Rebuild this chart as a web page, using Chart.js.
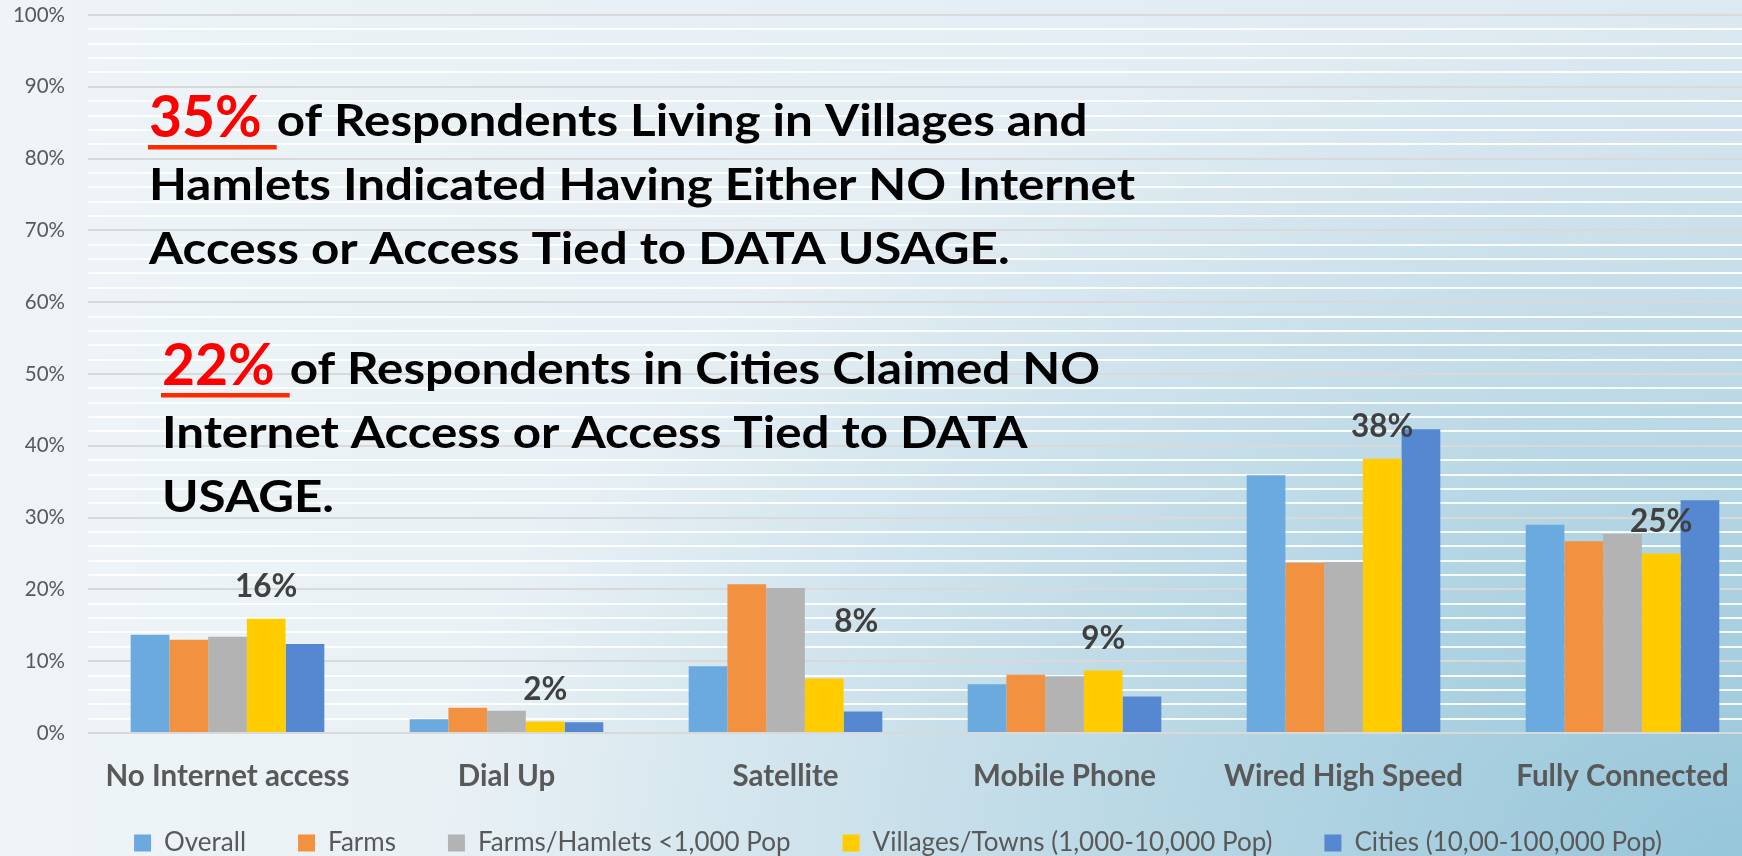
<!DOCTYPE html>
<html lang="en">
<head>
<meta charset="utf-8" />
<title>Internet Access by Community Size</title>
<script src="https://cdn.jsdelivr.net/npm/chart.js"></script>
<style>
    html, body {
        margin: 0;
        padding: 0;
        width: 1742px;
        height: 856px;
        overflow: hidden;
    }

    body {
        background:
            radial-gradient(ellipse 75% 100% at 100% 100%, rgba(150, 198, 217, 1) 0%, rgba(150, 198, 217, 0) 100%),
            linear-gradient(to right, #eef4f7 0%, #dde9f1 100%);
    }

    /* the plot runs past the right edge in the original, so the canvas is wider than the window */
    .chart-wrap {
        position: absolute;
        left: 0;
        top: 0;
        width: 1780px;
        height: 900px;
    }
</style>
</head>
<body>
<div class="chart-wrap"><canvas id="accessChart"></canvas></div>

<script>
    const categories = ['No Internet access', 'Dial Up', 'Satellite', 'Mobile Phone', 'Wired High Speed', 'Fully Connected'];
    const seriesNames = ['Overall', 'Farms', 'Farms/Hamlets <1,000 Pop', 'Villages/Towns (1,000-10,000 Pop)', 'Cities (10,00-100,000 Pop)'];
    const overall = [13.7, 1.9, 9.3, 6.8, 35.9, 29.0];
    const farms = [13.0, 3.5, 20.7, 8.1, 23.7, 26.7];
    const hamlets = [13.4, 3.1, 20.2, 7.9, 23.8, 27.7];
    const villages = [15.9, 1.6, 7.6, 8.7, 38.2, 25.0];
    const cities = [12.4, 1.5, 3.0, 5.1, 42.3, 32.4];
    const seriesColors = ['#6aaade', '#f29241', '#b3b3b3', '#ffcc00', '#5588d0'];

    const noteLines = [
        ['35%', 'of Respondents Living in Villages and'],
        ['', 'Hamlets Indicated Having Either NO Internet'],
        ['', 'Access or Access Tied to DATA USAGE.'],
        ['22%', 'of Respondents in Cities Claimed NO'],
        ['', 'Internet Access or Access Tied to DATA'],
        ['', 'USAGE.']
    ];

    Chart.defaults.font.family = 'Lato, "Open Sans", sans-serif';
    Chart.defaults.color = '#595959';

    // percentage printed over the Villages/Towns bars
    const barLabels = {
        id: 'barLabels',
        afterDatasetsDraw(chart, args, opts) {
            const ctx = chart.ctx;
            const values = chart.data.datasets[opts.dataset].data;
            ctx.save();
            ctx.font = 'bold 31.5px Lato';
            ctx.fillStyle = '#404040';
            ctx.textAlign = 'center';
            ctx.textBaseline = 'alphabetic';
            chart.getDatasetMeta(opts.dataset).data.forEach((bar, i) => {
                const n = opts.nudge[i] || [0, 0];
                ctx.fillText(Math.round(values[i]) + '%', bar.x + n[0], bar.y - opts.gap + n[1]);
            });
            ctx.restore();
        }
    };

    // the two big call-outs written across the plot
    const notes = {
        id: 'notes',
        afterDraw(chart, args, opts) {
            const ctx = chart.ctx;
            ctx.save();
            ctx.textAlign = 'left';
            ctx.textBaseline = 'alphabetic';
            ctx.font = 'bold 44.5px Lato';
            const sx = opts.fitWidth / ctx.measureText(noteLines[1][1]).width;
            noteLines.forEach((line, i) => {
                const block = opts.blocks[i < 3 ? 0 : 1];
                const y = block.y + (i % 3) * opts.lineStep;
                let x = block.x;
                if (line[0]) {
                    ctx.font = 'bold 57px Lato';
                    ctx.fillStyle = '#ff0000';
                    ctx.fillText(line[0], x, y + 1);
                    const w = ctx.measureText(line[0] + ' ').width;
                    ctx.fillStyle = '#ff2a00';
                    ctx.fillRect(x - 1, y + 9, w + 2, 4.5);
                    x += w + 1;
                }
                ctx.font = 'bold 44.5px Lato';
                ctx.fillStyle = '#000000';
                ctx.save();
                ctx.translate(x, y);
                ctx.scale(sx, 1);
                ctx.fillText(line[1], 0, 0);
                ctx.restore();
            });
            ctx.restore();
        }
    };

    // legend sits partly over the x label band, as in the original
    const legendShift = {
        id: 'legendShift',
        afterLayout(chart, args, opts) {
            const l = chart.legend;
            l.left += opts.dx;
            l.right += opts.dx;
            l.top += opts.dy;
            l.bottom += opts.dy;
        }
    };

    const seriesData = [overall, farms, hamlets, villages, cities];
    const datasets = seriesNames.map((name, i) => ({
        label: name,
        data: seriesData[i],
        backgroundColor: seriesColors[i],
        borderWidth: 0,
        categoryPercentage: 0.694,
        barPercentage: 1
    }));

    new Chart(document.getElementById('accessChart'), {
        type: 'bar',
        data: { labels: categories, datasets: datasets },
        options: {
            responsive: true,
            maintainAspectRatio: false,
            devicePixelRatio: 1,
            animation: false,
            layout: { padding: { top: 0, right: 18, bottom: 17, left: 0 } },
            scales: {
                x: {
                    grid: { display: false },
                    border: { display: false },
                    ticks: {
                        font: { size: 29.5, weight: 'bold' },
                        color: '#595959',
                        padding: 18,
                        maxRotation: 0
                    },
                    afterFit: s => { s.height = 62; }
                },
                y: {
                    min: 0,
                    max: 100,
                    border: { display: false },
                    grid: {
                        drawTicks: false,
                        lineWidth: 2,
                        color: c => c.tick.value % 10 === 0 ? '#d9d9d9' : 'rgba(255,255,255,0.9)'
                    },
                    ticks: {
                        stepSize: 2,
                        autoSkip: false,
                        padding: 23,
                        font: { size: 20.5 },
                        color: '#595959',
                        callback: v => v % 10 === 0 ? v + '%' : ''
                    },
                    afterFit: s => {
                        s.width = 88;
                        s.paddingTop = 15;
                    }
                }
            },
            plugins: {
                legend: {
                    position: 'bottom',
                    labels: {
                        boxWidth: 17,
                        boxHeight: 17,
                        padding: 52,
                        font: { size: 26 },
                        color: '#595959'
                    }
                },
                tooltip: { enabled: false },
                legendShift: { dx: 17, dy: -17 },
                barLabels: { dataset: 3, gap: 22, nudge: { 2: [32, -24] } },
                notes: {
                    fitWidth: 986,
                    lineStep: 64,
                    blocks: [{ x: 149, y: 136 }, { x: 162, y: 384 }]
                }
            }
        },
        plugins: [legendShift, barLabels, notes]
    });
</script>
</body>
</html>
